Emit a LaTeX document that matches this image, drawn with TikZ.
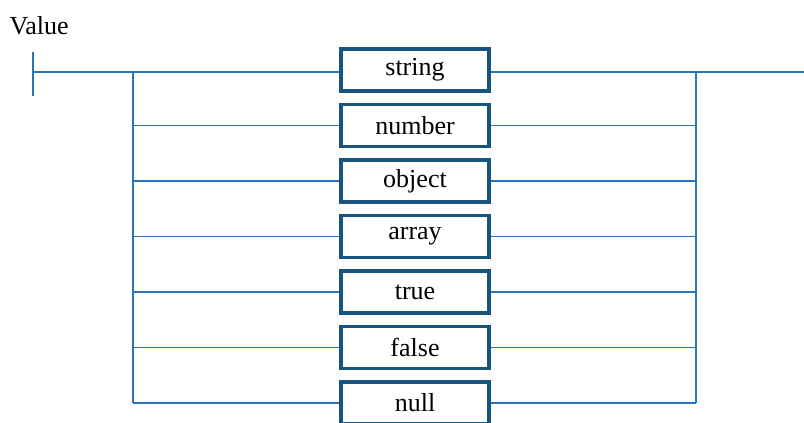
\documentclass[tikz,border=0pt]{standalone}
\usepackage{fontspec}
\setmainfont{Liberation Serif}
\usepackage{xcolor}
\usetikzlibrary{positioning}
\definecolor{railblue}{HTML}{2B74B8}
\definecolor{boxblue}{HTML}{17557F}

\begin{document}
\begin{tikzpicture}[
        x=1pt, y=-1pt,
        term/.style = {rectangle, draw=boxblue, line width=3.5pt, minimum width=148pt,
                       minimum height=42pt, inner sep=0pt, font=\fontsize{26}{30}\selectfont},
        rail/.style = {draw=railblue, line width=1.8pt},
        node distance = 10pt
    ]
        \useasboundingbox (0,0) rectangle (804,423);
        \clip (0,0) rectangle (804,423);
        \node[anchor=west, font=\fontsize{26}{30}\selectfont] (title) at (6,26) {Value};
        \coordinate (start) at (33,72);
        \coordinate (L)     at (133,72);
        \coordinate (R)     at (696,72);
        \coordinate (end)   at (804,72);
        \node[term] at (415,70)      (str) {string};
        \node[term, below=of str]    (num) {number};
        \node[term, below=of num]    (obj) {object};
        \node[term, below=of obj]    (arr) {array};
        \node[term, below=of arr]    (tru) {true};
        \node[term, below=of tru]    (fls) {false};
        \node[term, below=of fls]    (nul) {null};
        \draw[rail] ([yshift=-24pt]start) -- ([yshift=20pt]start);
        \draw[rail] (start) -- (start -| str.west);
        \draw[rail] (str.east |- end) -- (end);
        \foreach \t in {num, obj, arr, tru, fls, nul}
            \draw[rail] (L |- \t) -- (\t.west) (\t.east) -- (R |- \t);
        \draw[rail] (L) -- (L |- nul);
        \draw[rail] (R) -- (R |- nul);
    \end{tikzpicture}
\end{document}
